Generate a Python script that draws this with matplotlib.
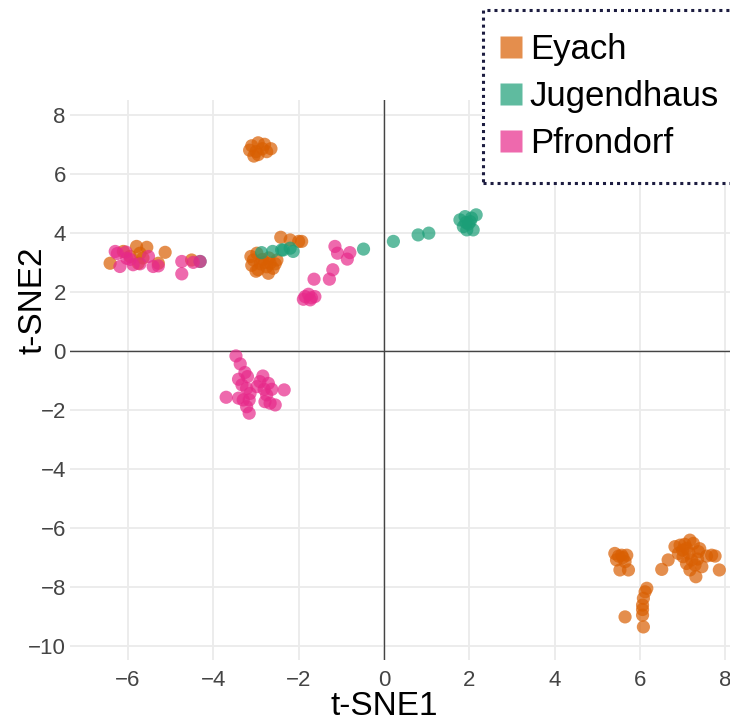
import numpy as np
import matplotlib
matplotlib.use('Agg')
import matplotlib.pyplot as plt
from matplotlib.lines import Line2D
from matplotlib.patches import Rectangle

plt.rcParams['font.family'] = ['Liberation Sans', 'DejaVu Sans']

# t-SNE coordinates, per site
eyach_x = [-3.10, -2.95, -2.80, -2.65, -3.15, -3.00, -2.85, -2.95, -2.75, -3.05,
           -6.42, -5.80, -5.56, -5.13, -6.11, -5.72, -5.29, -5.76, -4.51, -5.95, -5.65,
           -3.06, -2.67, -2.71, -2.98, -2.51, -2.42, -2.20, -2.00, -1.93, -3.10,
           -2.95, -2.85, -2.75, -2.60, -2.90, -3.00, -2.80, -2.55, -2.70, -3.12,
           5.41, 5.57, 5.69, 5.45, 5.65, 5.53, 5.73, 5.60, 5.50,
           6.51, 6.66, 6.82, 6.94, 7.09, 7.17, 7.25, 7.37, 7.01, 7.21, 7.29, 7.17,
           7.31, 7.45, 7.56, 7.68, 7.76, 7.86, 6.90, 7.09, 7.00, 7.15, 7.35, 7.40, 7.05,
           6.16, 6.12, 6.08, 6.06, 6.06, 6.06, 6.08, 5.65]
eyach_y = [6.95, 7.05, 7.00, 6.85, 6.80, 6.75, 6.85, 6.65, 6.75, 6.60,
           2.97, 3.54, 3.51, 3.34, 3.37, 3.31, 2.97, 2.97, 3.08, 3.20, 3.15,
           3.08, 2.97, 2.63, 3.31, 3.08, 3.85, 3.76, 3.71, 3.71, 2.90,
           2.75, 3.10, 2.85, 2.80, 2.95, 2.70, 3.00, 2.95, 3.15, 3.20,
           -6.86, -6.92, -6.92, -7.08, -7.14, -7.42, -7.42, -7.00, -6.95,
           -7.40, -7.08, -6.63, -6.58, -6.69, -6.41, -6.52, -6.80, -6.97, -7.08, -7.25, -7.42,
           -7.65, -7.31, -6.95, -6.92, -6.95, -7.42, -6.86, -7.20, -6.75, -6.85, -7.05, -6.70, -6.55,
           -8.04, -8.16, -8.38, -8.61, -8.76, -8.95, -9.35, -9.01]

jugend_x = [-4.31, -2.87, -2.61, -2.40, -2.20, -2.13, -2.36, -0.48, 0.22, 0.80, 1.05,
            1.78, 1.90, 2.16, 2.02, 1.86, 2.09, 1.94, 1.98, 2.05, 1.92]
jugend_y = [3.03, 3.33, 3.37, 3.42, 3.48, 3.37, 3.42, 3.45, 3.71, 3.93, 3.99,
            4.44, 4.55, 4.61, 4.38, 4.21, 4.10, 4.10, 4.30, 4.50, 4.35]

pfron_x = [-6.30, -6.19, -6.03, -5.88, -5.72, -5.41, -5.29, -5.52, -4.74, -4.74, -4.47,
           -4.31, -6.25, -5.95, -6.05,
           -1.15, -1.09, -0.80, -0.86, -1.20, -1.28, -1.64, -1.85, -1.73, -1.62, -1.89,
           -1.77, -1.70,
           -3.47, -3.37, -3.26, -3.20, -3.41, -3.33, -3.22, -3.70, -3.41, -3.30, -3.16,
           -3.22, -3.16, -2.84, -2.91, -2.71, -2.81, -2.63, -2.75, -2.79, -2.67, -2.55,
           -2.34, -2.98, -3.14]
pfron_y = [3.37, 2.86, 3.14, 2.92, 2.95, 2.86, 2.88, 3.20, 3.03, 2.61, 3.00,
           3.03, 3.30, 3.10, 3.35,
           3.54, 3.31, 3.33, 3.11, 2.75, 2.43, 2.43, 1.84, 1.73, 1.84, 1.75,
           1.92, 1.80,
           -0.17, -0.44, -0.73, -0.87, -0.96, -1.15, -1.27, -1.57, -1.60, -1.66, -1.66,
           -1.89, -2.11, -0.85, -1.04, -1.10, -1.30, -1.30, -1.49, -1.72, -1.77, -1.83,
           -1.32, -1.21, -1.44]

sites = ['Eyach', 'Jugendhaus', 'Pfrondorf']
colors = ['#D95F02', '#1B9E77', '#E7298A']
xs = [eyach_x, jugend_x, pfron_x]
ys = [eyach_y, jugend_y, pfron_y]

fig = plt.figure(figsize=(7.3, 7.22), dpi=100)
ax = fig.add_axes([70/730, 1 - 660/722, 660/730, 560/722])

for x, y, c in zip(xs, ys, colors):
    ax.scatter(x, y, s=90, color=c, alpha=0.7, edgecolors='none', zorder=3)

ax.set_xlim(-7.36, 8.11)
ax.set_ylim(-10.47, 8.5)
ax.set_xticks(np.arange(-6, 9, 2))
ax.set_yticks(np.arange(-10, 9, 2))
ax.grid(True, color='#ebebeb', linewidth=1.3, zorder=0)
ax.axhline(0, color='#444444', linewidth=1, zorder=1)
ax.axvline(0, color='#444444', linewidth=1, zorder=1)
for s in ax.spines.values():
    s.set_visible(False)
ax.tick_params(axis='x', length=0, labelsize=16, labelcolor='#444444', pad=7)
ax.tick_params(axis='y', length=0, labelsize=16, labelcolor='#444444', pad=3)
ax.set_axisbelow(True)

ax.set_xlabel('t-SNE1', fontsize=24)
ax.set_ylabel('t-SNE2', fontsize=24)
ax.xaxis.set_label_coords((384 - 70) / 660, -0.056)
ax.yaxis.set_label_coords(-0.032, (660 - 300) / 560)

# legend box with dotted border, running off the right edge
box = Rectangle((483/730, 1 - 183/722), 300/730, 173/722, transform=fig.transFigure,
                facecolor='white', edgecolor='#1c1c40', linestyle=(0, (1, 1.3)),
                linewidth=2.2, zorder=5)
fig.patches.append(box)

handles = [Line2D([], [], marker='s', linestyle='none', markersize=16,
                  markerfacecolor=c, markeredgecolor='none', alpha=0.7) for c in colors]
leg = fig.legend(handles, sites, loc='upper left', bbox_to_anchor=(495/730, 1 - 33/722),
                 frameon=False, fontsize=25, handletextpad=0.1, labelspacing=0.4,
                 handlelength=0.9, borderaxespad=0, borderpad=0)
leg.set_zorder(6)

fig.savefig('out.png', dpi=100)
